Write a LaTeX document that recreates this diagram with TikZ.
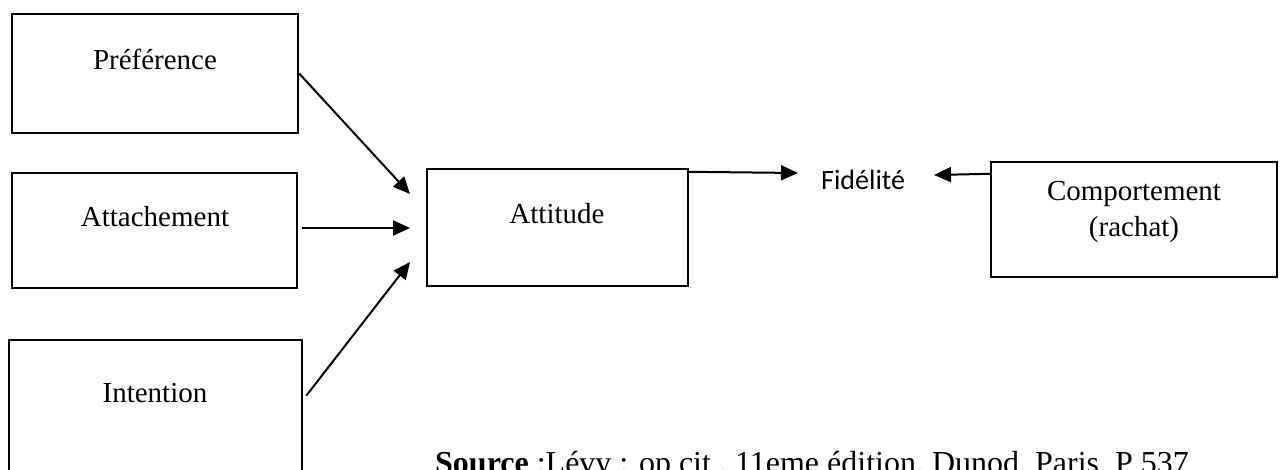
\documentclass[tikz,border=0pt]{standalone}
\usepackage{fontspec}
\setmainfont{Liberation Serif}
\newfontfamily\calib{Carlito}
\usetikzlibrary{arrows.meta,calc}
\begin{document}
\begin{tikzpicture}[x=1pt,y=-1pt,
  box/.style={draw, line width=2.4pt, rectangle, inner sep=0pt},
  txt/.style={font=\fontsize{29}{36}\selectfont, inner sep=0pt, anchor=base},
  arr/.style={line width=2pt, -{Triangle[length=17pt,width=15pt]}}]
\useasboundingbox (0,0) rectangle (1284,469);
% boxes
\node[box, minimum width=286pt, minimum height=119pt] (pref) at (155,73.5) {};
\node[box, minimum width=285pt, minimum height=115pt] (atta) at (154.5,230.5) {};
\node[box, minimum width=293pt, minimum height=150pt] (inte) at (155.5,415) {};
\node[box, minimum width=261pt, minimum height=117pt] (atti) at (557.5,227.5) {};
\node[box, minimum width=286pt, minimum height=115pt] (comp) at (1134,219.5) {};
% texts
\node[txt] (tpref) at (155,69) {Préférence};
\node[txt] (tatta) at (155,226) {Attachement};
\node[txt] (tinte) at (155,402) {Intention};
\node[txt] (tatti) at (557,223) {Attitude};
\node[txt] (tcomp1) at (1134,200) {Comportement};
\node[txt] (tcomp2) at (1134,236) {(rachat)};
\node[font=\calib\fontsize{28}{34}\selectfont, inner sep=0pt, anchor=base west] (fid) at (821,189) {Fidélité};
\node[font=\fontsize{32}{38}\selectfont, inner sep=0pt, anchor=base west] (src) at (435,473) {\textbf{Source} :Lévy : op cit , 11eme édition, Dunod, Paris, P 537};
% arrow tips (free ends)
\coordinate (t1) at (410,194);
\coordinate (t2) at (410,228);
\coordinate (t3) at (410,262);
\coordinate (tf) at (798,173);
\coordinate (tc) at (934,175);
% connectors
\draw[arr] (pref.east) -- (t1);
\draw[arr] ($(atta.east)+(4,-2.5)$) -- (t2);
\draw[arr] ($(inte.north east)+(3,57)$) -- (t3);
\draw[arr] ($(atti.north east)+(0,4)$) -- (tf);
\draw[arr] ($(comp.north west)+(0,13)$) -- (tc);
\end{tikzpicture}
\end{document}
